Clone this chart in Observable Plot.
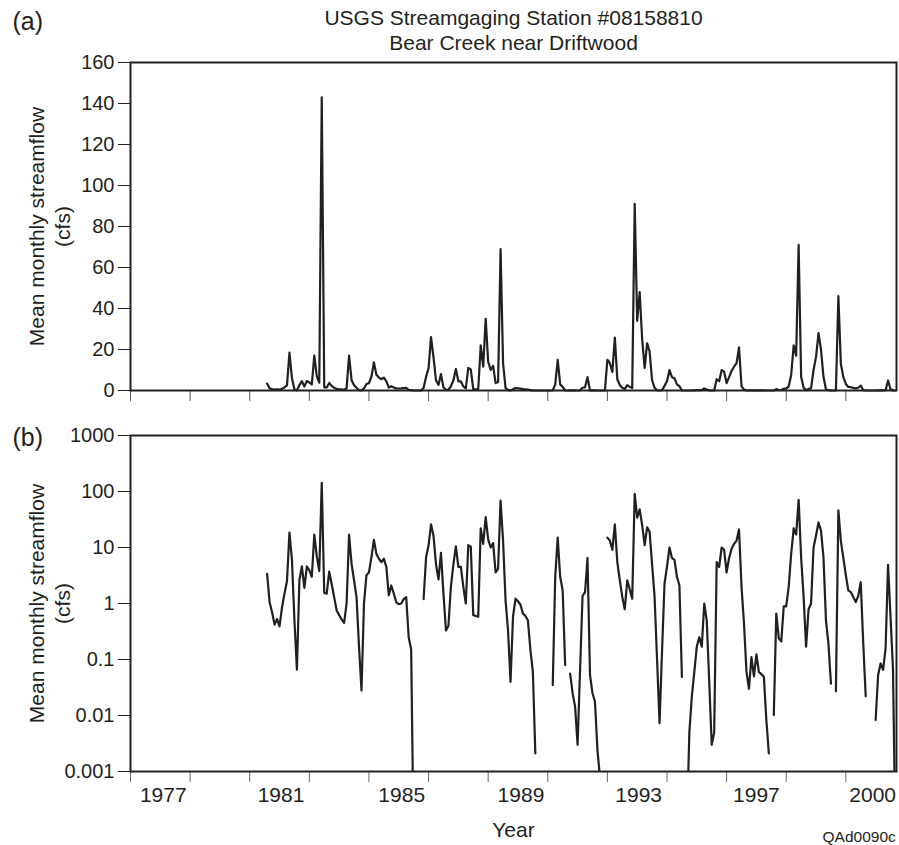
<!DOCTYPE html>
<html>
<head>
<meta charset="utf-8">
<script src="https://cdn.jsdelivr.net/npm/d3@7"></script>
<script src="https://cdn.jsdelivr.net/npm/@observablehq/plot@0.6"></script>
<style>
  html, body { margin: 0; padding: 0; background: #fff; }
  #chart { width: 899px; height: 845px; overflow: hidden; }
  #chart svg { display: block; }
</style>
</head>
<body>
<div id="chart"></div>
<script>
// ---- text ----
const stationTitle = "USGS Streamgaging Station #08158810";
const stationName = "Bear Creek near Driftwood";
const yLabel = "Mean monthly streamflow";
const yUnits = "(cfs)";
const xLabel = "Year";
const figureCode = "QAd0090c";
const panelA = "(a)";
const panelB = "(b)";

// ---- data: mean monthly streamflow (cfs), monthly from Aug 1979 to Sep 2000 ----
const startYear = 1979;
const startMonth = 8;
const flow = [
  3.4, 1.05, 0.7, 0.42, 0.53, 0.39, 0.85, 1.5, 2.5, 18.5, 6.0, 0.5,
  0.066, 2.6, 4.6, 1.9, 4.6, 3.9, 3.0, 17, 7, 3.8, 143, 1.55,
  1.5, 3.7, 2.2, 1.3, 0.75, 0.62, 0.52, 0.45, 1.0, 17, 5.1, 2.6,
  1.3, 0.17, 0.028, 1.0, 3.2, 3.6, 6.7, 13.7, 7.7, 6.3, 5.5, 6.3,
  4.5, 1.4, 2.1, 1.5, 1.05, 0.97, 1.0, 1.2, 1.3, 0.25, 0.15, 0.00005,
  0, 0, 0, 1.2, 6.7, 10.9, 26, 16, 5, 2.7, 8, 1.5,
  0.33, 0.4, 2, 5, 10.5, 4.5, 4.5, 2, 1.0, 11, 10.3, 0.62,
  0.6, 0.58, 22, 11.6, 35, 14, 10, 12, 3.6, 4.2, 69, 13.3,
  1.14, 0.33, 0.04, 0.58, 1.22, 1.1, 0.95, 0.66, 0.6, 0.5, 0.15, 0.06,
  0.0021, 0, 0, 0, 0, 0, 0, 0.035, 3.0, 15, 3.0, 1.7,
  0.08, 0, 0.056, 0.025, 0.0144, 0.003, 0.065, 1.36, 1.6, 6.5, 0.053, 0.025,
  0.0176, 0.0024, 0.0008, 0, 0, 15, 13.3, 9.1, 25.8, 5.5, 2.6, 1.31,
  0.79, 2.6, 1.8, 1.22, 91, 34, 48, 25, 11, 23, 19, 5,
  1.31, 0.1, 0.0073, 0.14, 2.25, 4.5, 10, 6.5, 6.0, 3.0, 2.1, 0.049,
  0, 0.0001, 0.005, 0.022, 0.06, 0.17, 0.25, 0.17, 1.0, 0.5, 0.04, 0.003,
  0.005, 5.5, 4.5, 10, 9.1, 3.6, 6.5, 9.5, 11.6, 13.3, 21, 2.0,
  0.44, 0.06, 0.03, 0.11, 0.05, 0.124, 0.06, 0.055, 0.049, 0.0083, 0.0021, 0,
  0.0102, 0.66, 0.24, 0.21, 0.89, 0.89, 2.0, 7.7, 22, 17, 71, 6.7,
  1.31, 0.17, 0.79, 1.0, 10, 16.4, 28, 20, 6.7, 0.5, 0.19, 0.037,
  0, 0.027, 46, 13, 6.5, 3.2, 1.71, 1.6, 1.31, 1.06, 1.36, 2.4,
  0.2, 0.022, 0, 0, 0, 0.0083, 0.053, 0.085, 0.065, 0.157, 4.9, 0.58,
  0.065, 0.00005
];

// ---- axes ----
const xDomain = [1975, 2000.7];
const xTickYears = [1975, 1977, 1979, 1981, 1983, 1985, 1987, 1989, 1991, 1993, 1995, 1997, 1999];
const xLabelYears = [1976.1, 1980.05, 1984.1, 1988.1, 1992.05, 1996.0, 1999.9];
const xLabelText = ["1977", "1981", "1985", "1989", "1993", "1997", "2000"];
const yLinTicks = [0, 20, 40, 60, 80, 100, 120, 140, 160];
const yLogTicks = [0.001, 0.01, 0.1, 1, 10, 100, 1000];
const yLogLabels = ["0.001", "0.01", "0.1", "1", "10", "100", "1000"];

const series = flow.map((v, i) => ({date: startYear + (startMonth - 1 + i) / 12, flow: v}));
const xLabels = xLabelYears.map((x, i) => ({x, label: xLabelText[i]}));
const logLabelMap = new Map(yLogTicks.map((t, i) => [t, yLogLabels[i]]));

const ink = "#231f20";
const font = "'Liberation Sans', Arial, Helvetica, sans-serif";
const style = {fontFamily: font, fontSize: "20px", color: ink, background: "white"};
const txt = {fill: ink, lineAnchor: "middle"};

const topChart = Plot.plot({
  width: 899, height: 415,
  marginTop: 62, marginBottom: 25, marginLeft: 130, marginRight: 3,
  style,
  x: {domain: xDomain, axis: null},
  y: {domain: [0, 160], axis: null},
  marks: [
    Plot.axisY(yLinTicks, {tickSize: 12, tickPadding: 4, fontSize: 20, label: null, stroke: ink, fill: ink}),
    Plot.axisX(xTickYears, {tickSize: 11, fill: "none", stroke: "#555", label: null}),
    Plot.lineY(series, {x: "date", y: "flow", stroke: ink, strokeWidth: 2.2}),
    Plot.frame({stroke: ink, strokeWidth: 2}),
    Plot.text([stationTitle], {...txt, frameAnchor: "top", dy: -44, fontSize: 21}),
    Plot.text([stationName], {...txt, frameAnchor: "top", dy: -19.5, fontSize: 21}),
    Plot.text([panelA], {...txt, frameAnchor: "top-left", dx: -118, dy: -41, textAnchor: "start", fontSize: 25}),
    Plot.text([yLabel], {...txt, frameAnchor: "left", dx: -93, rotate: -90, textAnchor: "middle", fontSize: 21}),
    Plot.text([yUnits], {...txt, frameAnchor: "left", dx: -67, rotate: -90, textAnchor: "middle", fontSize: 21})
  ]
});

const bottomChart = Plot.plot({
  width: 899, height: 430,
  marginTop: 20, marginBottom: 74, marginLeft: 130, marginRight: 3,
  style,
  x: {domain: xDomain, axis: null},
  y: {type: "log", domain: [0.001, 1000], axis: null},
  marks: [
    Plot.axisY(yLogTicks, {tickSize: 12, tickPadding: 4, fontSize: 20, label: null, stroke: ink, fill: ink,
      tickFormat: d => logLabelMap.get(d)}),
    Plot.axisX(xTickYears, {tickSize: 11, fill: "none", stroke: "#666", label: null}),
    Plot.text(xLabels, {x: "x", text: "label", frameAnchor: "bottom", lineAnchor: "top", dy: 16, fontSize: 21, fill: ink}),
    Plot.lineY(series, {x: "date", y: d => d.flow > 0 ? d.flow : NaN, stroke: ink, strokeWidth: 2.2, clip: true}),
    Plot.frame({stroke: ink, strokeWidth: 2}),
    Plot.text([panelB], {...txt, frameAnchor: "top-left", dx: -118, dy: 2, textAnchor: "start", fontSize: 25}),
    Plot.text([yLabel], {...txt, frameAnchor: "left", dx: -93, rotate: -90, textAnchor: "middle", fontSize: 21}),
    Plot.text([yUnits], {...txt, frameAnchor: "left", dx: -67, rotate: -90, textAnchor: "middle", fontSize: 21}),
    Plot.text([xLabel], {...txt, frameAnchor: "bottom", dy: 58.5, fontSize: 21}),
    Plot.text([figureCode], {...txt, frameAnchor: "bottom-right", dx: -74, dy: 66, textAnchor: "start", fontSize: 15.5})
  ]
});

const host = document.getElementById("chart");
host.appendChild(topChart);
host.appendChild(bottomChart);
</script>
</body>
</html>
